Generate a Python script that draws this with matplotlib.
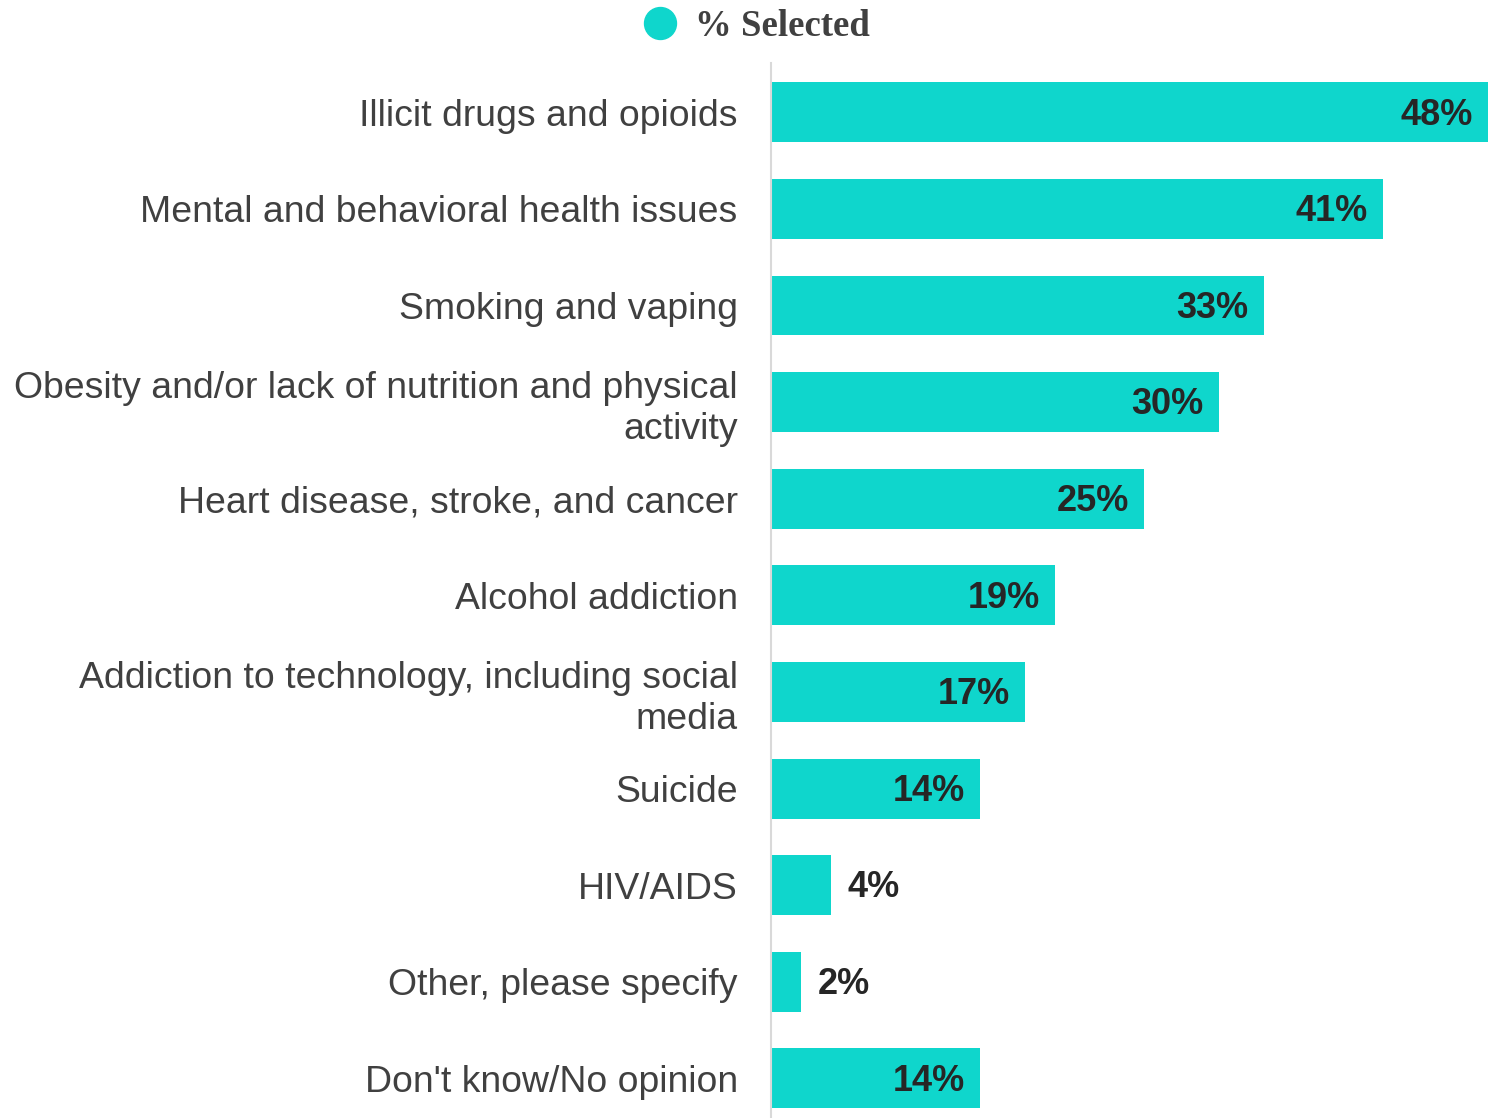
import matplotlib.pyplot as plt
from matplotlib.lines import Line2D

categories = [
    'Illicit drugs and opioids',
    'Mental and behavioral health issues',
    'Smoking and vaping',
    'Obesity and/or lack of nutrition and physical\nactivity',
    'Heart disease, stroke, and cancer',
    'Alcohol addiction',
    'Addiction to technology, including social\nmedia',
    'Suicide',
    'HIV/AIDS',
    'Other, please specify',
    "Don't know/No opinion",
]
values = [48, 41, 33, 30, 25, 19, 17, 14, 4, 2, 14]
series_name = '% Selected'

bar_color = '#0fd6cc'
text_color = '#404040'

fig = plt.figure(figsize=(14.88, 11.18), dpi=100)
ax = fig.add_axes([771 / 1488, 0, 1 - 771 / 1488, 1 - 63 / 1118])

y = list(range(len(categories)))
ax.barh(y, values, height=0.62, color=bar_color)
ax.set_xlim(0, 48)
ax.set_ylim(10.41, -0.51)

ax.set_yticks(y)
ax.set_yticklabels(categories, fontsize=26.9, color=text_color,
                   family='Liberation Sans', linespacing=1.22)
ax.tick_params(axis='y', length=0, pad=24)
ax.set_xticks([])
for s in ['top', 'right', 'bottom']:
    ax.spines[s].set_visible(False)
ax.spines['left'].set_color('#d9d9d9')
ax.spines['left'].set_linewidth(1.5)

# value labels: inside the bar end, or just outside for short bars
for yi, v in zip(y, values):
    if v >= 10:
        ax.annotate(f'{v}%', (v, yi), xytext=(-11, -2), textcoords='offset points',
                    ha='right', va='center', fontsize=26, fontweight='bold',
                    color='#262626', family='Liberation Sans')
    else:
        ax.annotate(f'{v}%', (v, yi), xytext=(12, -2), textcoords='offset points',
                    ha='left', va='center', fontsize=26, fontweight='bold',
                    color='#262626', family='Liberation Sans')

handle = Line2D([], [], marker='o', linestyle='none', markersize=23,
                markerfacecolor=bar_color, markeredgecolor=bar_color)
fig.legend([handle], [series_name], loc='center', bbox_to_anchor=(756 / 1488, 1 - 26 / 1118),
           frameon=False, handlelength=1.0, handletextpad=0.45,
           prop={'family': 'Liberation Serif', 'weight': 'bold', 'size': 26.5})
for t in fig.legends[0].get_texts():
    t.set_color(text_color)

fig.savefig('out.png', dpi=100)
